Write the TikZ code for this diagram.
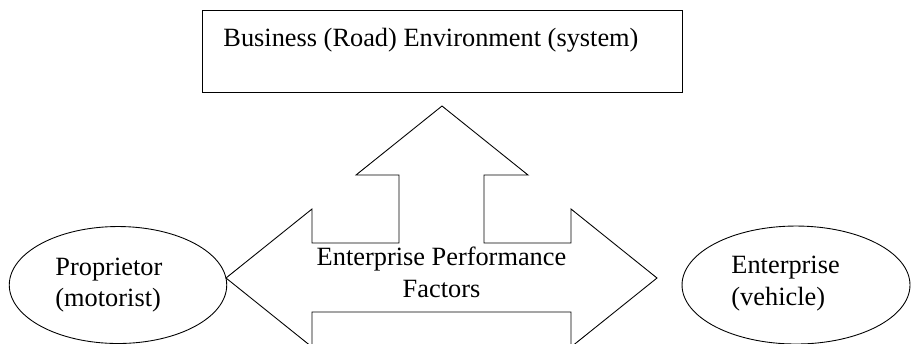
\documentclass[tikz,border=0pt]{standalone}
\usepackage{fontspec}
\setmainfont{Liberation Serif}
\usetikzlibrary{shapes.geometric}

\begin{document}
\begin{tikzpicture}[x=0.02cm, y=-0.02cm, line width=0.5pt,
		txt/.style={font=\fontsize{15}{18}\selectfont, inner sep=0pt},
		envbox/.style={draw, rectangle, inner sep=0pt, minimum width=9.6cm, minimum height=1.64cm},
		party/.style={draw, ellipse, inner sep=0pt}]
		\useasboundingbox (0,0) rectangle (911,343);
		\clip (0,0) rectangle (911,343);

		\node [envbox] (env) at (442,51) {};
		\node [txt, anchor=base west] (env-text) at (223,46) {Business (Road) Environment (system)};

		\node [party, minimum width=4.35cm, minimum height=2.34cm] (proprietor) at (118,285) {};
		\node [txt, align=left, anchor=west] (proprietor-text) at (55,285) {Proprietor\\(motorist)};

		\node [party, minimum width=4.56cm, minimum height=2.36cm] (enterprise) at (796,285) {};
		\node [txt, align=left, anchor=west] (enterprise-text) at (731,283.5) {Enterprise\\(vehicle)};

		% three-way block arrow
		\draw (442,106) -- (528,175) -- (484,175) -- (484,243) -- (571,243) -- (571,209)
			-- (657,278) -- (571,347) -- (571,312) -- (312,312) -- (312,347) -- (226,278)
			-- (312,209) -- (312,243) -- (399,243) -- (399,175) -- (356,175) -- cycle;

		\node [txt, align=center] (factors) at (441.5,272.5) {Enterprise Performance\\Factors};

	\end{tikzpicture}
\end{document}
